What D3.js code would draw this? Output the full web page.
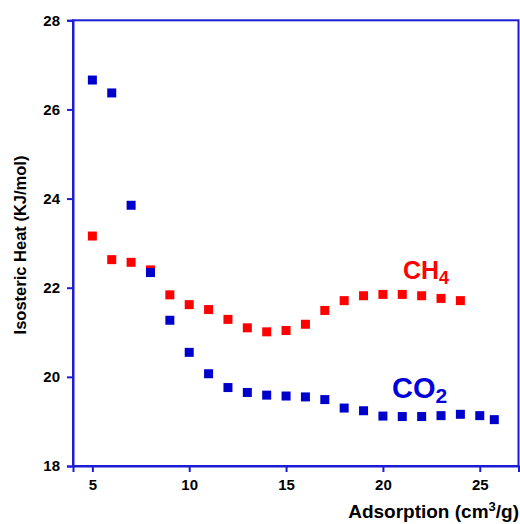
<!DOCTYPE html>
<html><head><meta charset="utf-8">
<script src="https://cdn.jsdelivr.net/npm/d3@7"></script>
<style>body{margin:0;background:#fff}svg{display:block}text{font-family:"Liberation Sans",Arial,sans-serif;font-weight:bold}</style>
</head><body><svg id="c" width="520" height="524"></svg>
<script>
const co2X = [5,6,7,8,9,10,11,12,13,14,15,16,17,18,19,20,21,22,23,24,25,25.75];
const co2Y = [26.66,26.37,23.85,22.34,21.27,20.55,20.07,19.76,19.65,19.59,19.57,19.55,19.49,19.30,19.24,19.12,19.11,19.11,19.13,19.16,19.13,19.04];
const ch4X = [5,6,7,8,9,10,11,12,13,14,15,16,17,18,19,20,21,22,23,24];
const ch4Y = [23.16,22.63,22.57,22.40,21.84,21.62,21.51,21.29,21.10,21.01,21.04,21.18,21.49,21.71,21.82,21.85,21.85,21.82,21.76,21.71];
const xTicks = [5,10,15,20,25];
const yTicks = [18,20,22,24,26,28];

const axisColor = "#1c1cd4";
const svg = d3.select("#c");
const L=73, R=518.5, T=20.3, B=466;
const x = d3.scaleLinear().domain([4,27]).range([L,R]);
const y = d3.scaleLinear().domain([18,28]).range([B,T]);

// frame
svg.append("rect").attr("x",L).attr("y",T).attr("width",R-L).attr("height",B-T)
  .attr("fill","none").attr("stroke",axisColor).attr("stroke-width",2);

const gx = svg.append("g").attr("transform",`translate(0,${B})`)
  .call(d3.axisBottom(x).tickValues(xTicks).tickSize(6).tickPadding(7));
const gy = svg.append("g").attr("transform",`translate(${L},0)`)
  .call(d3.axisLeft(y).tickValues(yTicks).tickSize(6).tickPadding(7));
[gx,gy].forEach(g=>{
  g.select(".domain").attr("stroke",axisColor).attr("stroke-width",2);
  g.selectAll(".tick line").attr("stroke",axisColor).attr("stroke-width",2);
  g.selectAll(".tick text").attr("fill","#000").attr("font-size",15)
   .attr("font-family","Liberation Sans, Arial, sans-serif").attr("font-weight","bold");
});

const s = 9;
svg.append("g").selectAll("rect").data(ch4X.map((d,i)=>[d,ch4Y[i]])).join("rect")
  .attr("x",d=>x(d[0])-s/2).attr("y",d=>y(d[1])-s/2).attr("width",s).attr("height",s).attr("fill","#ff0000");
svg.append("g").selectAll("rect").data(co2X.map((d,i)=>[d,co2Y[i]])).join("rect")
  .attr("x",d=>x(d[0])-s/2).attr("y",d=>y(d[1])-s/2).attr("width",s).attr("height",s).attr("fill","#0000cc");

// labels
const t1 = svg.append("text").attr("x",403).attr("y",279).attr("fill","#ff0000").attr("font-size",25);
t1.append("tspan").text("CH");
t1.append("tspan").text("4").attr("font-size",18).attr("dy",5);
const t2 = svg.append("text").attr("x",392).attr("y",398).attr("fill","#0000dd").attr("font-size",29);
t2.append("tspan").text("CO");
t2.append("tspan").text("2").attr("font-size",21).attr("dy",5);

const xl = svg.append("text").attr("x",519).attr("y",518).attr("text-anchor","end").attr("font-size",19).attr("fill","#000");
xl.append("tspan").text("Adsorption (cm");
xl.append("tspan").text("3").attr("font-size",13).attr("dy",-7);
xl.append("tspan").text("/g)").attr("dy",7);

svg.append("text").attr("transform","translate(26,245) rotate(-90)").attr("text-anchor","middle")
  .attr("font-size",16.5).attr("fill","#000").text("Isosteric Heat (KJ/mol)");
</script></body></html>
